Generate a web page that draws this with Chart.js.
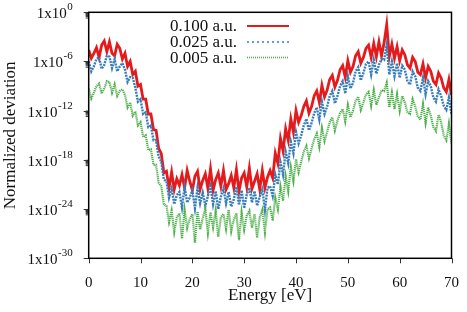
<!DOCTYPE html>
<html>
<head>
<meta charset="utf-8">
<script src="https://cdn.jsdelivr.net/npm/chart.js@4/dist/chart.umd.min.js"></script>
<style>
html, body { margin: 0; padding: 0; background: #fff; }
#wrap { width: 467px; height: 312px; }
</style>
</head>
<body>
<div id="wrap"><canvas id="chart" width="467" height="312"></canvas></div>
<script>
// energy grid [eV]
const energy = [
  0,0.5,1,1.5,2,2.5,3,3.5,4,4.5, 5,5.5,6,6.5,7,7.5,8,8.5,9,9.5,
  10,10.5,11,11.5,12,12.5,13,13.5,14,14.5, 15,15.5,16,16.5,17,17.5,18,18.5,19,19.5,
  20,20.5,21,21.5,22,22.5,23,23.5,24,24.5, 25,25.5,26,26.5,27,27.5,28,28.5,29,29.5,
  30,30.5,31,31.5,32,32.5,33,33.5,34,34.5, 35,35.5,36,36.5,37,37.5,38,38.5,39,39.5,
  40,40.5,41,41.5,42,42.5,43,43.5,44,44.5, 45,45.5,46,46.5,47,47.5,48,48.5,49,49.5,
  50,50.5,51,51.5,52,52.5,53,53.5,54,54.5, 55,55.5,56,56.5,57,57.5,58,58.5,59,59.5,
  60,60.5,61,61.5,62,62.5,63,63.5,64,64.5, 65,65.5,66,66.5,67,67.5,68,68.5,69,69.5,
  70
];

// log10 of normalized deviation
// 0.100 a.u.
const dev100 = [
  // 0 - 15.5
  -4.6,-5.6,-5.0,-4.3,-5.5,-4.0,-3.5,-4.8,-3.6,-5.0,
  -5.3,-3.9,-4.4,-5.7,-5.0,-6.6,-6.0,-7.6,-7.2,-9.0,
  -8.8,-10.6,-10.6,-12.4,-12.4,-14.3,-14.4,-16.6,-17.2,-19.6,
  -19.4,-21.4,
  // 16 - 34.5
  -19.5,-21.6,-20.3,-21.1,-19.8,-21.4,-19.3,-20.6,-21.7,-20.0,
  -19.4,-21.6,-20.5,-19.7,-21.5,-19.1,-21.7,-20.4,-19.6,-21.2,
  -19.3,-21.6,-20.9,-19.9,-21.4,-19.2,-21.8,-20.2,-19.6,-21.3,
  -19.0,-21.5,-20.6,-19.7,-21.6,-19.3,-21.4,-20.1,
  // 35 - 70
  -19.3,-20.2,-17.2,-18.4,-15.4,-16.9,-14.2,-15.6,-13.0,-14.6,
  -12.0,-13.4,-12.6,-11.5,-10.8,-12.3,-11.5,-10.2,-9.6,-11.0,
  -8.9,-10.3,-9.5,-8.2,-7.7,-9.1,-8.3,-7.0,-6.5,-7.9,
  -5.9,-7.3,-6.6,-5.3,-4.8,-6.2,-5.5,-4.4,-4.0,-5.5,
  -3.8,-5.4,-3.6,-5.3,-3.7,-1.5,-5.4,-3.9,-5.6,-4.2,
  -5.9,-4.6,-5.2,-6.4,-6.8,-5.5,-6.0,-7.3,-7.6,-6.3,
  -8.0,-6.6,-7.2,-8.4,-8.8,-7.4,-8.0,-9.2,-9.7,-8.2,
  -10.1
];
// 0.025 a.u.
const dev025 = [
  -6.0,-7.2,-6.6,-5.7,-5.5,-6.9,-6.4,-5.3,-5.4,-6.8,
  -5.7,-7.2,-6.6,-6.2,-7.0,-8.5,-7.9,-8.0,-9.2,-10.9,
  -10.6,-12.4,-12.2,-14.0,-13.8,-15.6,-15.6,-17.6,-18.2,-20.4,
  -20.6,-22.6,
  -21.5,-23.4,-22.3,-21.9,-23.8,-21.3,-23.2,-22.6,-21.7,-23.9,
  -21.4,-23.3,-22.0,-23.6,-22.4,-21.2,-23.4,-21.8,-24.0,-22.5,
  -21.5,-23.3,-21.9,-23.7,-22.8,-21.3,-23.5,-21.7,-23.9,-22.2,
  -21.4,-23.2,-21.8,-23.6,-22.5,-21.6,-24.1,-21.4,
  -21.2,-22.4,-19.8,-21.0,-18.3,-19.8,-17.0,-18.4,-15.8,-17.2,
  -14.6,-16.0,-15.0,-13.8,-13.0,-14.4,-13.5,-12.3,-11.6,-13.1,
  -10.9,-12.4,-11.5,-10.2,-9.6,-11.1,-10.2,-9.0,-8.4,-9.9,
  -7.8,-9.3,-8.6,-7.2,-6.7,-8.3,-7.4,-6.3,-6.0,-7.6,
  -5.8,-7.5,-6.4,-5.7,-5.8,-4.0,-7.6,-6.0,-7.8,-6.2,
  -8.0,-6.5,-7.0,-8.4,-8.8,-7.2,-7.8,-9.2,-9.6,-8.0,
  -10.0,-8.4,-9.0,-10.4,-10.9,-9.4,-10.2,-11.4,-11.9,-10.4,
  -12.4
];
// 0.005 a.u.
const dev005 = [
  -9.3,-10.5,-9.8,-9.0,-8.7,-9.9,-9.3,-8.4,-8.5,-9.8,
  -8.8,-10.2,-9.6,-9.4,-10.1,-11.6,-11.0,-12.6,-12.1,-13.8,
  -13.4,-15.2,-15.0,-16.8,-16.7,-18.6,-18.6,-20.8,-21.2,-23.4,
  -23.6,-25.6,
  -24.2,-26.8,-25.0,-24.5,-27.6,-24.1,-26.3,-25.2,-24.6,-28.1,
  -24.3,-26.5,-25.1,-24.0,-26.9,-24.4,-26.2,-24.2,-27.4,-25.0,
  -24.6,-26.4,-24.1,-26.7,-25.3,-24.5,-27.8,-24.4,-26.5,-24.8,
  -24.2,-26.3,-24.6,-27.5,-25.0,-24.1,-26.8,-24.0,
  -23.8,-25.4,-22.6,-24.0,-21.3,-23.0,-20.0,-21.8,-18.9,-20.6,
  -17.9,-19.5,-18.2,-17.0,-16.3,-17.8,-16.6,-15.5,-14.8,-16.4,
  -14.1,-15.7,-14.6,-13.4,-12.8,-14.4,-13.2,-12.3,-11.8,-13.3,
  -11.3,-12.8,-12.0,-10.8,-10.3,-11.9,-11.0,-10.0,-9.7,-11.4,
  -9.5,-11.3,-10.4,-9.5,-9.6,-8.6,-11.6,-9.8,-11.8,-10.0,
  -12.0,-10.2,-11.0,-12.2,-12.4,-10.6,-11.5,-12.7,-13.1,-11.2,
  -13.5,-11.6,-12.6,-14.0,-14.5,-12.5,-13.4,-15.0,-15.6,-13.6,
  -16.0
];

const labels = ["0.100 a.u.", "0.025 a.u.", "0.005 a.u."];
const colors = ["#e41a1c", "#377eb8", "#4daf4a"];
const dashes = [[], [2, 1], [1.2, 0.8]];
const widths = [2.8, 2.4, 2.2];
const xTicks = [0, 10, 20, 30, 40, 50, 60, 70];
const yTickExp = [0, -6, -12, -18, -24, -30];

const FONT = "'Liberation Serif', 'Times New Roman', serif";

function toPoints(arr) {
    return energy.map((e, i) => ({x: e, y: Math.pow(10, arr[i])}));
}

// frame, ticks, y labels with superscripts, legend
const decor = {
    id: "decor",
    afterDatasetsDraw(chart) {
        let ctx = chart.ctx;
        let a = chart.chartArea;
        let xs = chart.scales.x, ys = chart.scales.y;
        ctx.save();

        // tick marks
        ctx.strokeStyle = "#333";
        ctx.lineWidth = 1;
        xTicks.forEach(t => {
            let px = Math.round(xs.getPixelForValue(t)) + 0.5;
            ctx.beginPath();
            ctx.moveTo(px, a.bottom);
            ctx.lineTo(px, a.bottom + 5);
            ctx.stroke();
        });
        yTickExp.forEach(k => {
            let py = Math.round(ys.getPixelForValue(Math.pow(10, k))) + 0.5;
            ctx.beginPath();
            ctx.moveTo(a.left - 5, py);
            ctx.lineTo(a.left, py);
            ctx.stroke();
            if (k > -30) {
                for (let m = 2; m <= 9; m++) {
                    let q = ys.getPixelForValue(m * Math.pow(10, k - 1));
                    ctx.beginPath();
                    ctx.moveTo(a.left - 3, q);
                    ctx.lineTo(a.left, q);
                    ctx.stroke();
                }
            }
        });

        // frame
        ctx.strokeStyle = "#000";
        ctx.lineWidth = 1.5;
        ctx.strokeRect(a.left, a.top, a.right - a.left, a.bottom - a.top);

        // y tick labels 1x10^k
        ctx.fillStyle = "#111";
        ctx.textBaseline = "middle";
        yTickExp.forEach(k => {
            let py = ys.getPixelForValue(Math.pow(10, k));
            let right = a.left - 16;
            ctx.font = "11px " + FONT;
            let sup = String(k);
            let sw = ctx.measureText(sup).width;
            ctx.textAlign = "left";
            ctx.fillText(sup, right - sw, py - 5);
            ctx.font = "15px " + FONT;
            ctx.textAlign = "right";
            ctx.fillText("1x10", right - sw - 0.5, py + 2);
        });

        // legend
        let rows = [26, 42, 57.5];
        ctx.font = "17px " + FONT;
        ctx.textAlign = "right";
        labels.forEach((lab, i) => {
            ctx.fillStyle = "#111";
            ctx.fillText(lab, 237, rows[i] + 1);
            ctx.strokeStyle = colors[i];
            ctx.lineWidth = i === 0 ? 1.8 : 1.6;
            ctx.setLineDash(i === 1 ? [2, 3] : [1, 1]);
            if (i === 0) ctx.setLineDash([]);
            ctx.beginPath();
            ctx.moveTo(247, rows[i]);
            ctx.lineTo(289, rows[i]);
            ctx.stroke();
            ctx.setLineDash([]);
        });
        ctx.restore();
    }
};

const series = [dev100, dev025, dev005];

new Chart(document.getElementById("chart"), {
    type: "line",
    data: {
        datasets: series.map((s, i) => ({
            label: labels[i],
            data: toPoints(s),
            borderColor: colors[i],
            borderWidth: widths[i],
            borderDash: dashes[i],
            borderJoinStyle: "miter",
            pointRadius: 0,
            tension: 0,
            fill: false,
            order: 3 - i
        }))
    },
    options: {
        responsive: false,
        animation: false,
        devicePixelRatio: 1,
        layout: {padding: {top: 12.3, right: 14.3, left: 0, bottom: 0}},
        plugins: {legend: {display: false}, tooltip: {enabled: false}},
        scales: {
            x: {
                type: "linear",
                min: 0,
                max: 70,
                afterBuildTicks: s => { s.ticks = xTicks.map(v => ({value: v})); },
                afterFit: s => { s.height = 53.7; },
                grid: {display: false},
                border: {display: false},
                ticks: {color: "#111", font: {family: FONT, size: 15}, padding: 8, maxRotation: 0},
                title: {display: true, text: "Energy [eV]", color: "#111",
                        font: {family: FONT, size: 17}, padding: {top: 0, bottom: 6}}
            },
            y: {
                type: "logarithmic",
                min: 1e-30,
                max: 1,
                afterFit: s => { s.width = 88.7; },
                grid: {display: false},
                border: {display: false},
                ticks: {display: false},
                title: {display: true, text: "Normalized deviation", color: "#111",
                        font: {family: FONT, size: 17}, padding: {top: 0, bottom: 0}}
            }
        }
    },
    plugins: [decor]
});
</script>
</body>
</html>
